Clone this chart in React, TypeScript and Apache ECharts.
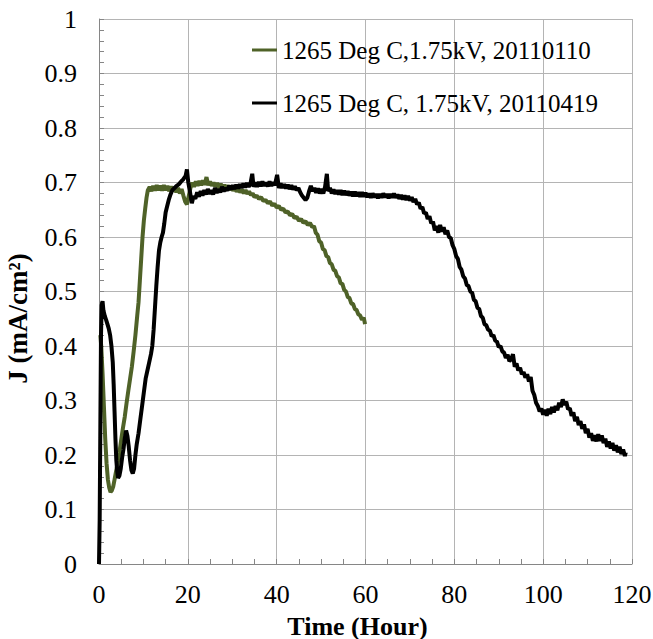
import React, { useEffect, useRef } from "react";
import * as echarts from "echarts";

const seriesNames = ["1265 Deg C,1.75kV, 20110110", "1265 Deg C, 1.75kV, 20110419"];
const seriesColors = ["#4F6228", "#000000"];

const green: number[][] = [
  [0.3,0.42],[0.5,0.4],[0.8,0.35],[1.1,0.29],[1.4,0.23],[1.7,0.185],[2.0,0.155],[2.3,0.14],[2.6,0.132],[2.9,0.135],
  [3.2,0.142],[3.5,0.155],[3.8,0.168],[4.2,0.185],[4.6,0.205],[5.0,0.228],[5.4,0.25],[5.8,0.27],[6.2,0.295],[6.6,0.318],
  [7.0,0.34],[7.4,0.362],[7.8,0.39],[8.2,0.42],[8.6,0.455],[8.9,0.48],[9.2,0.52],[9.5,0.56],[9.8,0.6],[10.1,0.63],
  [10.4,0.652],[10.7,0.672],[11.0,0.686],[11.4,0.692],[11.8,0.684],[12.2,0.694],[12.6,0.685],[13.0,0.695],[13.4,0.686],[13.8,0.694],
  [14.2,0.685],[14.6,0.695],[15.0,0.686],[15.4,0.694],[15.8,0.684],[16.2,0.693],[16.6,0.684],[17.0,0.692],[17.4,0.682],[17.8,0.69],
  [18.2,0.68],[18.6,0.688],[19.0,0.676],[19.4,0.665],[19.8,0.66],[20.2,0.675],[20.6,0.69],[21.0,0.7],[21.4,0.692],[21.8,0.702],
  [22.2,0.694],[22.6,0.703],[23.0,0.695],[23.4,0.704],[23.8,0.696],[24.2,0.71],[24.6,0.695],[25.0,0.702],[25.4,0.694],[25.8,0.7],
  [26.2,0.692],[26.6,0.699],[27.0,0.69],[27.4,0.698],[27.8,0.689],[28.2,0.696],[28.6,0.688],[29.0,0.695],[29.4,0.686],[29.8,0.692],
  [30.2,0.685],[30.6,0.69],[31.0,0.683],[31.4,0.689],[31.8,0.682],[32.2,0.687],[32.6,0.68],[33.0,0.686],[33.4,0.679],[33.8,0.684],
  [34.2,0.677],[34.6,0.68],[35.0,0.673],[35.5,0.676],[36.0,0.67],[36.5,0.673],[37.0,0.666],[37.5,0.668],[38.0,0.662],[38.5,0.665],
  [39.0,0.658],[39.5,0.661],[40.0,0.654],[40.5,0.657],[41.0,0.65],[41.5,0.652],[42.0,0.645],[42.5,0.647],[43.0,0.64],[43.5,0.642],
  [44.0,0.635],[44.5,0.637],[45.0,0.63],[45.5,0.633],[46.0,0.626],[46.5,0.629],[47.0,0.622],[47.5,0.626],[48.0,0.618],[48.4,0.62],
  [48.8,0.608],[49.2,0.604],[49.6,0.592],[50.0,0.59],[50.4,0.578],[50.8,0.576],[51.2,0.565],[51.6,0.563],[52.0,0.552],[52.4,0.55],
  [52.8,0.54],[53.2,0.538],[53.6,0.528],[54.0,0.526],[54.4,0.515],[54.8,0.514],[55.2,0.503],[55.6,0.5],[56.0,0.49],[56.4,0.488],
  [56.8,0.478],[57.2,0.477],[57.6,0.468],[58.0,0.466],[58.4,0.458],[58.8,0.456],[59.2,0.448],[59.6,0.452],[59.9,0.44]
];

const black: number[][] = [
  [0,0],[0.15,0.08],[0.3,0.25],[0.45,0.42],[0.6,0.475],[0.8,0.482],[1.0,0.465],[1.3,0.455],[1.6,0.448],[1.9,0.44],
  [2.2,0.432],[2.5,0.42],[2.8,0.4],[3.1,0.37],[3.3,0.33],[3.5,0.28],[3.7,0.23],[3.9,0.19],[4.1,0.17],[4.3,0.158],
  [4.6,0.162],[4.9,0.175],[5.2,0.195],[5.5,0.21],[5.8,0.23],[6.1,0.245],[6.4,0.235],[6.7,0.215],[7.0,0.19],[7.3,0.172],
  [7.6,0.166],[7.9,0.175],[8.2,0.2],[8.5,0.22],[8.9,0.24],[9.3,0.265],[9.7,0.29],[10.1,0.315],[10.5,0.34],[10.9,0.355],
  [11.3,0.37],[11.7,0.385],[12.0,0.4],[12.3,0.43],[12.6,0.47],[12.9,0.51],[13.2,0.545],[13.5,0.575],[13.8,0.59],[14.1,0.6],
  [14.4,0.608],[14.7,0.625],[15.0,0.645],[15.3,0.655],[15.7,0.668],[16.1,0.678],[16.5,0.686],[17.0,0.69],[17.5,0.694],[18.0,0.697],
  [18.5,0.702],[19.0,0.706],[19.5,0.712],[19.8,0.724],[20.1,0.7],[20.5,0.682],[20.9,0.662],[21.3,0.675],[21.7,0.67],[22.1,0.682],
  [22.5,0.674],[22.9,0.684],[23.3,0.676],[23.7,0.686],[24.1,0.678],[24.5,0.688],[24.9,0.679],[25.3,0.686],[25.7,0.678],[26.1,0.69],
  [26.5,0.681],[26.9,0.688],[27.3,0.682],[27.7,0.692],[28.1,0.684],[28.5,0.69],[28.9,0.685],[29.3,0.694],[29.7,0.687],[30.1,0.695],
  [30.5,0.688],[30.9,0.696],[31.3,0.689],[31.7,0.697],[32.1,0.69],[32.5,0.698],[32.9,0.691],[33.3,0.699],[33.7,0.692],[34.1,0.698],
  [34.5,0.716],[34.8,0.692],[35.2,0.7],[35.6,0.692],[36.0,0.701],[36.4,0.693],[36.8,0.702],[37.2,0.694],[37.6,0.7],[38.0,0.693],
  [38.4,0.702],[38.8,0.694],[39.2,0.7],[39.6,0.695],[40.1,0.714],[40.5,0.69],[40.9,0.698],[41.3,0.69],[41.7,0.697],[42.1,0.689],
  [42.5,0.696],[42.9,0.688],[43.3,0.695],[43.7,0.687],[44.1,0.693],[44.5,0.686],[44.9,0.69],[45.3,0.682],[45.7,0.676],[46.1,0.672],
  [46.5,0.668],[46.9,0.672],[47.3,0.684],[47.7,0.694],[48.1,0.684],[48.5,0.69],[48.9,0.681],[49.3,0.689],[49.7,0.68],[50.1,0.688],
  [50.5,0.68],[50.9,0.692],[51.3,0.716],[51.6,0.684],[52.0,0.69],[52.4,0.68],[52.8,0.687],[53.2,0.679],[53.6,0.686],[54.0,0.678],
  [54.4,0.686],[54.8,0.677],[55.2,0.685],[55.6,0.677],[56.0,0.684],[56.4,0.676],[56.8,0.683],[57.2,0.675],[57.6,0.683],[58.0,0.675],
  [58.4,0.682],[58.8,0.674],[59.2,0.682],[59.6,0.674],[60.0,0.681],[60.4,0.673],[60.8,0.68],[61.2,0.672],[61.6,0.68],[62.0,0.673],
  [62.4,0.679],[62.8,0.671],[63.2,0.679],[63.6,0.672],[64.0,0.68],[64.4,0.673],[64.8,0.679],[65.2,0.671],[65.6,0.679],[66.0,0.672],
  [66.4,0.68],[66.8,0.672],[67.2,0.678],[67.6,0.67],[68.0,0.677],[68.4,0.669],[68.8,0.676],[69.2,0.668],[69.6,0.675],[70.0,0.667],
  [70.4,0.673],[70.8,0.664],[71.2,0.67],[71.6,0.66],[72.0,0.663],[72.4,0.652],[72.8,0.655],[73.2,0.643],[73.6,0.645],[74.0,0.633],
  [74.4,0.638],[74.8,0.625],[75.2,0.628],[75.6,0.612],[76.0,0.62],[76.4,0.608],[76.8,0.622],[77.2,0.61],[77.6,0.618],[78.0,0.605],
  [78.4,0.612],[78.8,0.6],[79.2,0.598],[79.6,0.585],[80.0,0.578],[80.4,0.565],[80.8,0.56],[81.2,0.545],[81.6,0.54],[82.0,0.528],
  [82.4,0.524],[82.8,0.512],[83.2,0.51],[83.6,0.5],[84.0,0.498],[84.4,0.485],[84.8,0.482],[85.2,0.47],[85.6,0.468],[86.0,0.455],
  [86.4,0.452],[86.8,0.44],[87.2,0.438],[87.6,0.43],[88.0,0.428],[88.4,0.418],[88.8,0.42],[89.2,0.41],[89.6,0.408],[90.0,0.398],
  [90.4,0.4],[90.8,0.39],[91.2,0.388],[91.6,0.378],[92.0,0.384],[92.4,0.372],[92.8,0.376],[93.2,0.385],[93.6,0.362],[94.0,0.368],
  [94.4,0.355],[94.8,0.36],[95.2,0.348],[95.6,0.352],[96.0,0.342],[96.4,0.348],[96.8,0.335],[97.2,0.343],[97.6,0.318],[98.0,0.31],
  [98.4,0.296],[98.8,0.29],[99.2,0.28],[99.6,0.285],[100.0,0.274],[100.4,0.283],[100.8,0.272],[101.2,0.285],[101.6,0.275],[102.0,0.288],
  [102.4,0.278],[102.8,0.29],[103.2,0.282],[103.6,0.296],[104.0,0.288],[104.4,0.302],[104.8,0.292],[105.2,0.298],[105.6,0.284],[106.0,0.286],
  [106.4,0.272],[106.8,0.278],[107.2,0.262],[107.6,0.27],[108.0,0.255],[108.4,0.262],[108.8,0.248],[109.2,0.256],[109.6,0.24],[110.0,0.248],
  [110.4,0.232],[110.8,0.24],[111.2,0.226],[111.6,0.236],[112.0,0.225],[112.4,0.238],[112.8,0.226],[113.2,0.236],[113.6,0.222],[114.0,0.23],
  [114.4,0.215],[114.8,0.225],[115.2,0.212],[115.6,0.222],[116.0,0.208],[116.4,0.218],[116.8,0.205],[117.2,0.215],[117.6,0.202],[118.0,0.21],
  [118.4,0.198],[118.6,0.205]
];

const xName = "Time (Hour)";
const yName = "J (mA/cm²)";

const FONT = "'Liberation Serif', 'Times New Roman', serif";

export default function App() {
  const ref = useRef<HTMLDivElement>(null);
  useEffect(() => {
    if (!ref.current) return;
    const chart = echarts.init(ref.current, null, { renderer: "svg" });
    const axisColor = "#868686";
    const gridColor = "#b4b4b4";
    chart.setOption({
      animation: false,
      backgroundColor: "#ffffff",
      textStyle: { fontFamily: FONT },
      grid: {
        left: 99,
        right: 21,
        top: 19,
        bottom: 75,
        containLabel: false,
        outerBoundsMode: "none",
      },
      legend: {
        data: seriesNames,
        orient: "vertical",
        left: 252,
        top: 36,
        padding: 0,
        icon: "rect",
        itemWidth: 25,
        itemHeight: 3,
        itemGap: 25,
        textStyle: { fontFamily: FONT, fontSize: 25, color: "#000", lineHeight: 28 },
      },
      xAxis: {
        type: "value",
        min: 0,
        max: 120,
        interval: 20,
        name: xName,
        nameLocation: "middle",
        nameGap: 49,
        nameTextStyle: { fontFamily: FONT, fontSize: 26, fontWeight: "bold", color: "#000", padding: [0, 16, 0, 0] },
        axisLine: { show: true, lineStyle: { color: axisColor, width: 1 } },
        axisTick: { show: true, inside: true, length: 5, lineStyle: { color: axisColor } },
        minorTick: { show: true, splitNumber: 4, length: 5, lineStyle: { color: axisColor } },
        splitLine: { show: true, lineStyle: { color: gridColor, width: 1 } },
        axisLabel: { fontFamily: FONT, fontSize: 26, color: "#000", margin: 17 },
      },
      yAxis: {
        type: "value",
        min: 0,
        max: 1,
        interval: 0.1,
        name: yName,
        nameLocation: "middle",
        nameGap: 68,
        nameTextStyle: { fontFamily: FONT, fontSize: 27, fontWeight: "bold", color: "#000", padding: [0, 54, 0, 0] },
        axisLine: { show: true, lineStyle: { color: axisColor, width: 1 } },
        axisTick: { show: true, inside: true, length: 5, lineStyle: { color: axisColor } },
        minorTick: { show: true, splitNumber: 5, length: 5, lineStyle: { color: axisColor } },
        splitLine: { show: true, lineStyle: { color: gridColor, width: 1 } },
        axisLabel: { fontFamily: FONT, fontSize: 26, color: "#000", margin: 22 },
      },
      series: [
        {
          name: seriesNames[0],
          type: "line",
          data: green,
          showSymbol: false,
          symbol: "none",
          color: seriesColors[0],
          lineStyle: { color: seriesColors[0], width: 4 },
        },
        {
          name: seriesNames[1],
          type: "line",
          data: black,
          showSymbol: false,
          symbol: "none",
          color: seriesColors[1],
          lineStyle: { color: seriesColors[1], width: 4 },
        },
      ],
    });
    return () => chart.dispose();
  }, []);
  return (
    <div
      ref={ref}
      style={{ position: "fixed", left: 0, top: 0, width: 653, height: 639, overflow: "hidden" }}
    />
  );
}
